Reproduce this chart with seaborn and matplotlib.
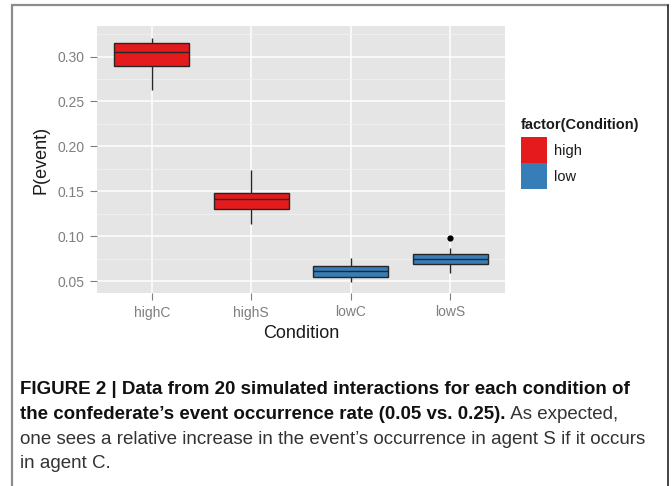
import matplotlib
matplotlib.use("Agg")
import matplotlib.pyplot as plt
import seaborn as sns
import pandas as pd
from matplotlib.lines import Line2D
from matplotlib.patches import Patch
from matplotlib.ticker import MultipleLocator

# ---- data (five-number summaries) ----
conditions = ["highC", "highS", "lowC", "lowS"]
groups = ["high", "high", "low", "low"]
whisker_low = [0.263, 0.114, 0.049, 0.0586]
q1 = [0.289, 0.1304, 0.054, 0.0686]
medians = [0.3045, 0.1419, 0.0615, 0.0748]
q3 = [0.315, 0.148, 0.067, 0.080]
whisker_high = [0.321, 0.174, 0.076, 0.0871]
outlier_condition = ["lowS"]
outlier_value = [0.0975]
y_ticks = [0.05, 0.10, 0.15, 0.20, 0.25, 0.30]
y_tick_labels = ["0.05", "0.10", "0.15", "0.20", "0.25", "0.30"]
legend_levels = ["high", "low"]
level_colors = ["#E41A1C", "#377EB8"]

rows = []
for c, g, a, b, m, d, e in zip(conditions, groups, whisker_low, q1, medians, q3, whisker_high):
    for v in (a, b, m, d, e):
        rows.append({"Condition": c, "group": g, "P": v})
df = pd.DataFrame(rows)
out_df = pd.DataFrame({"Condition": outlier_condition, "P": outlier_value})

sns.set_style("darkgrid", {"axes.facecolor": "#E5E5E5", "grid.color": "white"})
plt.rcParams["font.family"] = ["Liberation Sans", "DejaVu Sans"]

W, H = 672, 486
fig = plt.figure(figsize=(W / 100, H / 100), dpi=100)
fig.patch.set_facecolor("white")

def fx(px):
    return px / W

def fy(py):
    return 1 - py / H

left, right, top, bottom = 97, 505, 26, 293
ax = fig.add_axes([fx(left), fy(bottom), fx(right - left), (bottom - top) / H])

palette = dict(zip(legend_levels, level_colors))
sns.boxplot(data=df, x="Condition", y="P", hue="group", order=conditions,
            palette=palette, saturation=1, dodge=False, width=0.75, whis=(0, 100),
            showcaps=False, showfliers=False, linecolor="#262626",
            linewidth=1.0, legend=False, ax=ax, zorder=3)
sns.stripplot(data=out_df, x="Condition", y="P", order=conditions, jitter=False,
              color="black", size=4.5, ax=ax, zorder=4)

ax.set_xlim(-0.55, 3.55)
ax.set_ylim(0.0367, 0.334)
ax.set_yticks(y_ticks)
ax.set_yticklabels(y_tick_labels)
ax.yaxis.set_minor_locator(MultipleLocator(0.025))
ax.grid(which="major", color="white", linewidth=1.1)
ax.grid(which="minor", axis="y", color="#F2F2F2", linewidth=0.6)
ax.set_axisbelow(True)
for s in ax.spines.values():
    s.set_visible(False)
ax.tick_params(axis="both", which="major", length=5, width=0.8, color="#7F7F7F",
               labelcolor="#7F7F7F", labelsize=10, pad=4, left=True, bottom=True)
ax.tick_params(axis="y", which="minor", length=0)
ax.set_xlabel("Condition", fontsize=13, color="#1A1A1A", labelpad=4)
ax.set_ylabel("P(event)", fontsize=13, color="#1A1A1A", labelpad=6)

# ---- legend ----
fig.text(fx(521), fy(129), "factor(Condition)", fontsize=10.5, fontweight="bold",
         va="baseline", color="#1A1A1A")
handles = [Patch(facecolor=c, edgecolor="none") for c in level_colors]
leg = fig.legend(handles, legend_levels, loc="upper left",
                 bbox_to_anchor=(fx(521), fy(137)), frameon=False, borderpad=0,
                 handlelength=1.75, handleheight=2.37, labelspacing=0,
                 handletextpad=0.5, fontsize=10.5, borderaxespad=0)
for t in leg.get_texts():
    t.set_color("#1A1A1A")

# ---- frame ----
fig.add_artist(Line2D([fx(12), fx(668)], [fy(5), fy(5)], color="#8C8C8C", linewidth=1.6))
fig.add_artist(Line2D([fx(12), fx(12)], [fy(5), fy(486)], color="#8C8C8C", linewidth=1.6))
fig.add_artist(Line2D([fx(668), fx(668)], [fy(5), fy(486)], color="#222222", linewidth=1.2))

# ---- caption ----
cap_font = ["Liberation Sans Narrow", "Liberation Sans", "DejaVu Sans"]
cs = 13.5
fig.text(fx(20), fy(394), "FIGURE 2 | Data from 20 simulated interactions for each condition of",
         fontsize=cs, fontweight="bold", family=cap_font, va="baseline", color="#111111")
t2 = fig.text(fx(20), fy(419), "the confederate\u2019s event occurrence rate (0.05 vs. 0.25).",
              fontsize=cs, fontweight="bold", family=cap_font, va="baseline", color="#111111")
plt.annotate(" As expected,", xy=(1, 0), xycoords=t2, va="bottom", ha="left",
             fontsize=cs, family=cap_font, color="#333333", annotation_clip=False)
fig.text(fx(20), fy(444), "one sees a relative increase in the event\u2019s occurrence in agent S if it occurs",
         fontsize=cs, family=cap_font, va="baseline", color="#333333")
fig.text(fx(20), fy(468), "in agent C.", fontsize=cs, family=cap_font, va="baseline", color="#333333")

fig.savefig("out.png", dpi=100, facecolor="white")
